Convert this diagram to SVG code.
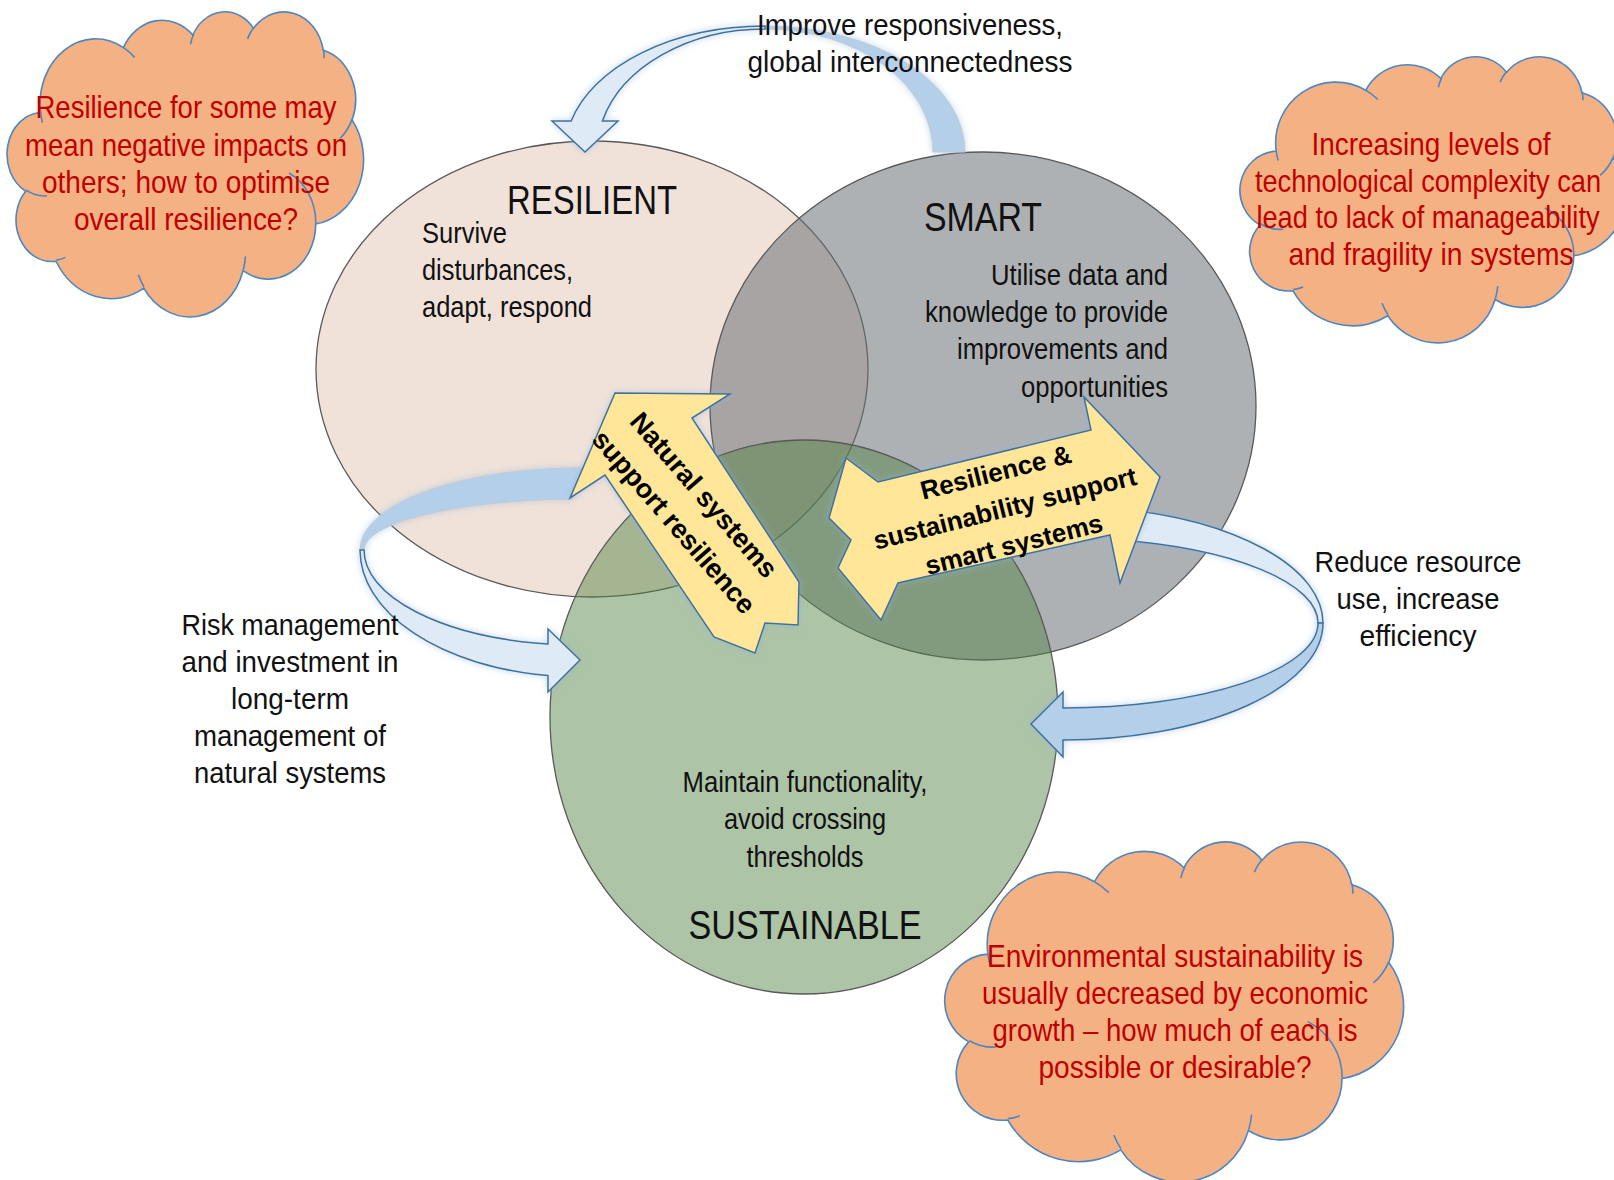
<svg xmlns="http://www.w3.org/2000/svg" width="1614" height="1180" viewBox="0 0 1614 1180">
  <defs>
    <style>
      .circle { stroke: #595959; stroke-width: 1.3; }
      .narrow { font-family: "Liberation Sans Narrow", "Liberation Sans", Arial, sans-serif; fill: #111111; }
      .body { font-size: 30px; }
      .head { font-size: 40px; }
      .note { font-size: 32px; fill: #C00000; }
      .bold { font-family: "Liberation Sans", Arial, sans-serif; font-weight: bold; fill: #000000; }
      .cloud { fill: #F4B183; stroke: #4E86C2; stroke-width: 1.6; vector-effect: non-scaling-stroke; }
      .cloud-inner { fill: none; stroke: #4E86C2; stroke-width: 1.6; vector-effect: non-scaling-stroke; }
      .band-front { fill: #DEEBF7; stroke: #41719C; stroke-width: 1.5; }
      .band-back { fill: #B4CFEA; stroke: #C3CBD3; stroke-width: 1; }
      .band-back-edged { fill: #B4CFEA; stroke: #41719C; stroke-width: 1.5; }
      .block { fill: #FFE699; stroke: #41719C; stroke-width: 1.5; }
    </style>
    <filter id="soft" x="-20%" y="-20%" width="140%" height="140%">
      <feGaussianBlur in="SourceAlpha" stdDeviation="3.5" result="blur"/>
      <feFlood flood-color="#8FB4DC" flood-opacity="0.55"/>
      <feComposite in2="blur" operator="in" result="halo"/>
      <feMerge><feMergeNode in="halo"/><feMergeNode in="SourceGraphic"/></feMerge>
    </filter>
    <!-- cloud outline in a 432 x 432 box, plus its inner arcs -->
    <g id="cloud-shape">
      <path class="cloud" d="M39,143.7 A67.53,91.9 0 0 1 139.75,51.78 A53.33,72.67 0 0 1 224.28,34.06 A43.65,59.45 0 0 1 298.06,24.55 A48.57,65.95 0 0 1 382.92,55.5 A53.33,72.73 0 0 1 417.92,154.34 A67.75,92.2 0 0 1 373.78,301.76 A57.85,78.67 0 0 1 285.3,367.87 A67.52,92.15 0 0 1 164.55,392.41 A77.2,105.43 0 0 1 57.81,354.49 A43.6,59.18 0 0 1 20.9,255.27 A43.45,59.45 0 0 1 39,143.7 Z"/>
      <path class="cloud-inner" d="M46.93,261.77 A43.45,59.45 0 0 1 21.6,253.8 M69.28,348.99 A43.6,59.18 0 0 1 58.19,352.81 M164.78,390.9 A67.52,92.15 0 0 1 158.09,373.48 M288.27,347.51 A67.52,92.15 0 0 1 285.6,366.6 M341.29,229.54 A57.85,78.67 0 0 1 373.81,300.9 M417.98,153.54 A53.33,72.73 0 0 1 403.49,180.31 M383.24,54.26 A48.57,65.95 0 0 1 384,66.9 M290.78,39.52 A48.57,65.95 0 0 1 298.2,23.4 M221.41,47.2 A43.65,59.45 0 0 1 225,33.31 M140,51.92 A67.53,91.9 0 0 1 153.31,65.65 M41.27,157.89 A67.53,91.9 0 0 1 39,143.71"/>
    </g>
  </defs>

  <rect width="1614" height="1180" fill="#FFFFFF"/>

  <!-- the three overlapping sets -->
  <g id="node-resilient">
    <ellipse class="circle" cx="592" cy="369" rx="276" ry="228" fill="#F0E2D9"/>
    <text class="narrow head" x="592" y="214" text-anchor="middle" textLength="170" lengthAdjust="spacingAndGlyphs">RESILIENT</text>
    <text class="narrow body" x="422" y="243" textLength="85" lengthAdjust="spacingAndGlyphs">Survive</text>
    <text class="narrow body" x="422" y="280" textLength="151" lengthAdjust="spacingAndGlyphs">disturbances,</text>
    <text class="narrow body" x="422" y="317" textLength="170" lengthAdjust="spacingAndGlyphs">adapt, respond</text>
  </g>

  <g id="node-smart">
    <ellipse class="circle" cx="983" cy="406" rx="273" ry="254" fill="#6B7176" fill-opacity="0.55"/>
    <text class="narrow head" x="983" y="231" text-anchor="middle" textLength="118" lengthAdjust="spacingAndGlyphs">SMART</text>
    <text class="narrow body" x="1168" y="285" text-anchor="end" textLength="177" lengthAdjust="spacingAndGlyphs">Utilise data and</text>
    <text class="narrow body" x="1168" y="322" text-anchor="end" textLength="243" lengthAdjust="spacingAndGlyphs">knowledge to provide</text>
    <text class="narrow body" x="1168" y="359" text-anchor="end" textLength="211" lengthAdjust="spacingAndGlyphs">improvements and</text>
    <text class="narrow body" x="1168" y="397" text-anchor="end" textLength="147" lengthAdjust="spacingAndGlyphs">opportunities</text>
  </g>

  <g id="node-sustainable">
    <ellipse class="circle" cx="804" cy="717" rx="254" ry="277" fill="#508242" fill-opacity="0.47"/>
    <text class="narrow body" x="805" y="792" text-anchor="middle" textLength="245" lengthAdjust="spacingAndGlyphs">Maintain functionality,</text>
    <text class="narrow body" x="805" y="829" text-anchor="middle" textLength="162" lengthAdjust="spacingAndGlyphs">avoid crossing</text>
    <text class="narrow body" x="805" y="867" text-anchor="middle" textLength="117" lengthAdjust="spacingAndGlyphs">thresholds</text>
    <text class="narrow head" x="805" y="939" text-anchor="middle" textLength="233" lengthAdjust="spacingAndGlyphs">SUSTAINABLE</text>
  </g>

  <!-- connectors -->
  <g id="connectors">
    <g id="link-smart-to-resilient">
      <path class="band-back" filter="url(#soft)" d="M765,26 A200,126 0 0 1 965,152 L933,152 A168,123 0 0 0 765,29 Z"/>
      <path class="band-front" filter="url(#soft)" d="M765,26 A200,126 0 0 0 571.2,121 L552,121 L585,152 L618,121 L602.4,121 A168,123 0 0 1 765,29 Z"/>
      <text class="narrow body" x="910" y="35" text-anchor="middle" textLength="306" lengthAdjust="spacingAndGlyphs">Improve responsiveness,</text>
      <text class="narrow body" x="910" y="72" text-anchor="middle" textLength="325" lengthAdjust="spacingAndGlyphs">global interconnectedness</text>
    </g>

    <g id="link-resilient-to-sustainable">
      <path class="band-back" filter="url(#soft)" d="M586,468 A220,82 0 0 0 360,550 L364,550 A216,51 0 0 1 572,499 Z"/>
      <path class="band-front" filter="url(#soft)" d="M360,550 A220,127 0 0 0 548,675.6 L548,692 L580,660 L548,629 L548,644 A216,95 0 0 1 364,550 Z"/>
      <text class="narrow body" x="290" y="635" text-anchor="middle" textLength="217" lengthAdjust="spacingAndGlyphs">Risk management</text>
      <text class="narrow body" x="290" y="672" text-anchor="middle" textLength="217" lengthAdjust="spacingAndGlyphs">and investment in</text>
      <text class="narrow body" x="290" y="709" text-anchor="middle" textLength="118" lengthAdjust="spacingAndGlyphs">long-term</text>
      <text class="narrow body" x="290" y="746" text-anchor="middle" textLength="192" lengthAdjust="spacingAndGlyphs">management of</text>
      <text class="narrow body" x="290" y="783" text-anchor="middle" textLength="192" lengthAdjust="spacingAndGlyphs">natural systems</text>
    </g>

    <g id="link-smart-to-sustainable">
      <path class="band-front" filter="url(#soft)" d="M1115,508.4 A260,117 0 0 1 1323,623 L1318,623 A255,85 0 0 0 1115,539.8 Z"/>
      <path class="band-back-edged" filter="url(#soft)" d="M1323,623 A260,117 0 0 1 1063,740 L1063,757 L1031,724 L1063,692 L1063,708 A255,85 0 0 0 1318,623 Z"/>
      <text class="narrow body" x="1418" y="572" text-anchor="middle" textLength="207" lengthAdjust="spacingAndGlyphs">Reduce resource</text>
      <text class="narrow body" x="1418" y="609" text-anchor="middle" textLength="163" lengthAdjust="spacingAndGlyphs">use, increase</text>
      <text class="narrow body" x="1418" y="646" text-anchor="middle" textLength="117" lengthAdjust="spacingAndGlyphs">efficiency</text>
    </g>

    <g id="link-natural-systems">
      <polygon class="block" filter="url(#soft)" points="615,393 730,394 692,418 799,582 798,625 765,623 755,653 714,637 605,475 570,498"/>
      <text class="bold" font-size="27" text-anchor="middle" transform="translate(697,501) rotate(49)">Natural systems</text>
      <text class="bold" font-size="27" text-anchor="middle" transform="translate(667,528) rotate(49)">support resilience</text>
    </g>

    <g id="link-smart-support">
      <polygon class="block" filter="url(#soft)" points="846,458 878,482 1091,430 1084,397 1160,477 1120,583 1110,535 898,583 881,620 838,568 851,540 829,518"/>
      <text class="bold" font-size="26" text-anchor="middle" transform="translate(998,481) rotate(-14)">Resilience &amp;</text>
      <text class="bold" font-size="26" text-anchor="middle" transform="translate(1007,517) rotate(-14)">sustainability support</text>
      <text class="bold" font-size="26" text-anchor="middle" transform="translate(1016,553) rotate(-14)">smart systems</text>
    </g>
  </g>

  <!-- question clouds -->
  <g id="cloud-resilience">
    <use href="#cloud-shape" transform="translate(8.5,11) scale(0.822,0.706)"/>
    <text class="narrow note" x="186" y="118" text-anchor="middle" textLength="301" lengthAdjust="spacingAndGlyphs">Resilience for some may</text>
    <text class="narrow note" x="186" y="156" text-anchor="middle" textLength="322" lengthAdjust="spacingAndGlyphs">mean negative impacts on</text>
    <text class="narrow note" x="186" y="193" text-anchor="middle" textLength="288" lengthAdjust="spacingAndGlyphs">others; how to optimise</text>
    <text class="narrow note" x="186" y="230" text-anchor="middle" textLength="224" lengthAdjust="spacingAndGlyphs">overall resilience?</text>
  </g>

  <g id="cloud-complexity">
    <use href="#cloud-shape" transform="translate(1241.5,56) scale(0.889,0.662)"/>
    <text class="narrow note" x="1431" y="155" text-anchor="middle" textLength="239" lengthAdjust="spacingAndGlyphs">Increasing levels of</text>
    <text class="narrow note" text-anchor="middle" transform="translate(1428,192) scale(0.85,1)">technological complexity can</text>
    <text class="narrow note" text-anchor="middle" transform="translate(1428,228) scale(0.85,1)">lead to lack of manageability</text>
    <text class="narrow note" x="1431" y="265" text-anchor="middle" textLength="285" lengthAdjust="spacingAndGlyphs">and fragility in systems</text>
  </g>

  <g id="cloud-growth">
    <use href="#cloud-shape" transform="translate(946.6,841) scale(1.058,0.787)"/>
    <text class="narrow note" x="1175" y="967" text-anchor="middle" textLength="376" lengthAdjust="spacingAndGlyphs">Environmental sustainability is</text>
    <text class="narrow note" x="1175" y="1004" text-anchor="middle" textLength="386" lengthAdjust="spacingAndGlyphs">usually decreased by economic</text>
    <text class="narrow note" x="1175" y="1041" text-anchor="middle" textLength="365" lengthAdjust="spacingAndGlyphs">growth – how much of each is</text>
    <text class="narrow note" x="1175" y="1078" text-anchor="middle" textLength="273" lengthAdjust="spacingAndGlyphs">possible or desirable?</text>
  </g>
</svg>
